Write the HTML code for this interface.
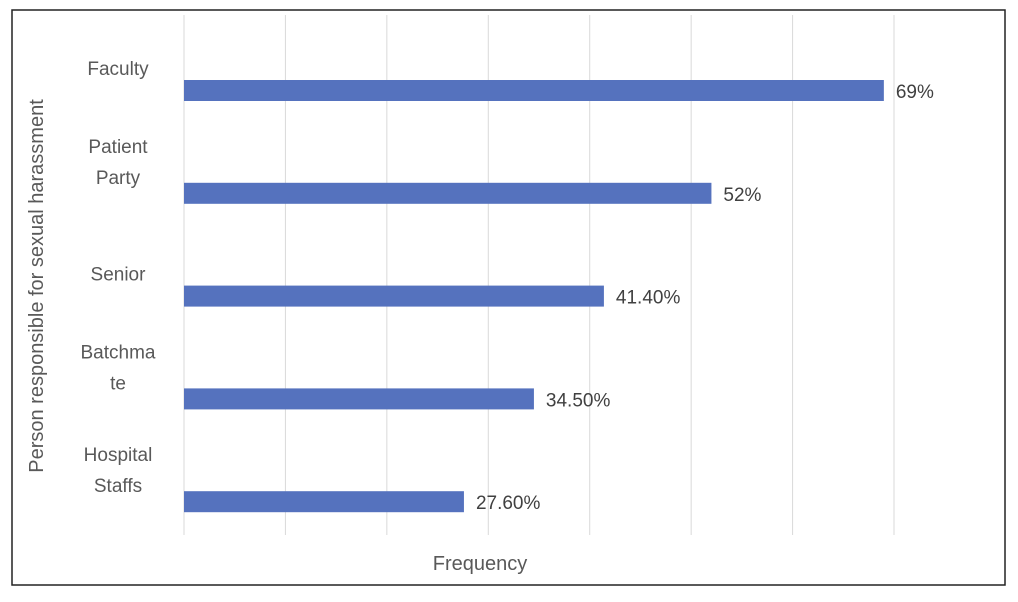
<!DOCTYPE html>
<html><head><meta charset="utf-8"><style>
body{margin:0;background:#fff;font-family:"Liberation Sans",sans-serif;}
</style></head><body>
<svg id="chart" width="1018" height="597" xmlns="http://www.w3.org/2000/svg">
<rect x="12" y="10" width="993" height="575" fill="#fff" stroke="#222" stroke-width="1.5"/>
<g id="grid"></g><g id="bars"></g><g id="labels"></g>
<text transform="translate(43,286) rotate(-90)" text-anchor="middle" font-size="20" fill="#595959">Person responsible for sexual harassment</text>
<text x="480" y="570" text-anchor="middle" font-size="20" fill="#595959">Frequency</text>
</svg>
<script>
const categories=[["Faculty"],["Patient","Party"],["Senior"],["Batchma","te"],["Hospital","Staffs"]];
const values=[69,52,41.4,34.5,27.6];
const valueLabels=["69%","52%","41.40%","34.50%","27.60%"];
const gridTicks=[0,10,20,30,40,50,60,70];
const ns="http://www.w3.org/2000/svg";
const x0=184,x1=894,xmax=70;
const xs=v=>x0+(x1-x0)*v/xmax;
const bandTop=40,bandH=102.8,barH=21;
const ys=i=>bandTop+i*bandH+40;
function mk(t,a,p){const e=document.createElementNS(ns,t);for(const k in a)e.setAttribute(k,a[k]);p.appendChild(e);return e;}
const g=document.getElementById('grid'),b=document.getElementById('bars'),l=document.getElementById('labels');
gridTicks.forEach(t=>{const e=mk('line',{x1:xs(t),x2:xs(t),y1:15,y2:535,stroke:'#d9d9d9','stroke-width':1},g);

});
values.forEach((v,i)=>{
const r=mk('rect',{x:x0,y:ys(i),width:xs(v)-x0,height:barH,fill:'#5572be'},b);


const t=mk('text',{x:xs(v)+12,y:ys(i)+18,'font-size':19,fill:'#404040'},l);t.textContent=valueLabels[i];


const lines=categories[i];
const ct=mk('text',{x:118,'text-anchor':'middle','font-size':19,fill:'#595959'},l);


const base=lines.length===1?ys(i)-5:ys(i)-30;
lines.forEach((s,j)=>{const sp=mk('tspan',{x:118,y:base+j*31},ct);sp.textContent=s;});
});
</script>
</body></html>
